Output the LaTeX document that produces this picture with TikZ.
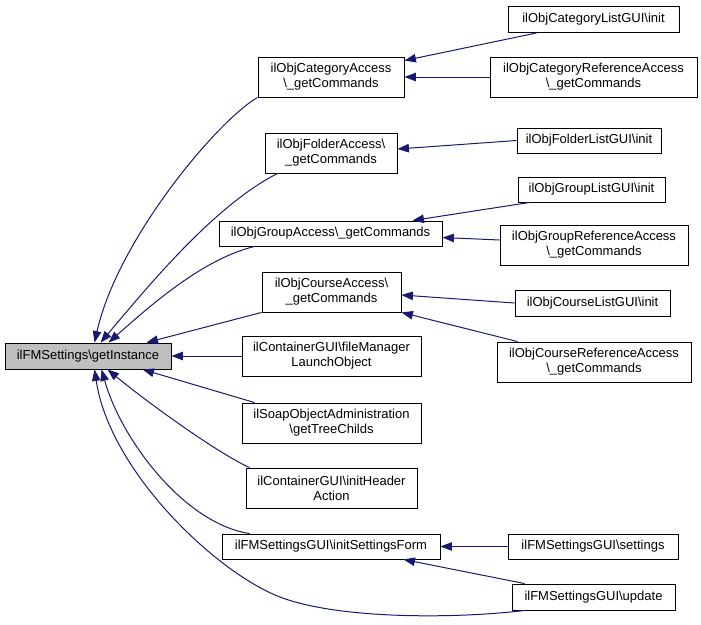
\documentclass[tikz,border=0pt]{standalone}
\usepackage{fontspec}
\setmainfont{Liberation Sans}
\usetikzlibrary{arrows.meta,calc}
\definecolor{midnight}{HTML}{191970}
\definecolor{rootgray}{HTML}{BFBFBF}
\begin{document}
\begin{tikzpicture}[x=1pt,y=-1pt,
  box/.style={draw=black, line width=0.9pt, fill=white, align=center, inner sep=0pt, font=\fontsize{13}{15}\selectfont},
  conn/.style={draw=midnight, line width=1pt, -{Triangle[length=11.5pt,width=8.5pt]}}]
\useasboundingbox (0,0) rectangle (701,624);
% nodes
\node[box, fill=rootgray, minimum width=166pt, minimum height=26pt] (root) at (88,356) {ilFMSettings\textbackslash getInstance};
\node[box, minimum width=146pt, minimum height=40pt] (catAcc) at (331,77) {ilObjCategoryAccess\\\textbackslash\_getCommands};
\node[box, minimum width=132pt, minimum height=40pt] (folderAcc) at (331,153) {ilObjFolderAccess\textbackslash\\\_getCommands};
\node[box, minimum width=223pt, minimum height=25pt] (groupAcc) at (330.5,233.5) {ilObjGroupAccess\textbackslash\_getCommands};
\node[box, minimum width=139pt, minimum height=40pt] (courseAcc) at (331.5,292) {ilObjCourseAccess\textbackslash\\\_getCommands};
\node[box, minimum width=179pt, minimum height=40pt] (fileMgr) at (331.5,356) {ilContainerGUI\textbackslash fileManager\\LaunchObject};
\node[box, minimum width=179pt, minimum height=40pt] (soap) at (331.5,423) {ilSoapObjectAdministration\\\textbackslash getTreeChilds};
\node[box, minimum width=171pt, minimum height=40pt] (initHeader) at (331.5,488) {ilContainerGUI\textbackslash initHeader\\Action};
\node[box, minimum width=218pt, minimum height=25pt] (initSF) at (331,546.5) {ilFMSettingsGUI\textbackslash initSettingsForm};
\node[box, minimum width=171pt, minimum height=26pt] (catList) at (593.5,19.5) {ilObjCategoryListGUI\textbackslash init};
\node[box, minimum width=207pt, minimum height=40pt] (catRef) at (593.5,77) {ilObjCategoryReferenceAccess\\\textbackslash\_getCommands};
\node[box, minimum width=144pt, minimum height=25pt] (folderList) at (589,140.5) {ilObjFolderListGUI\textbackslash init};
\node[box, minimum width=147pt, minimum height=25pt] (groupList) at (591.5,189.5) {ilObjGroupListGUI\textbackslash init};
\node[box, minimum width=188pt, minimum height=40pt] (groupRef) at (594,245) {ilObjGroupReferenceAccess\\\textbackslash\_getCommands};
\node[box, minimum width=155pt, minimum height=26pt] (courseList) at (592.5,303) {ilObjCourseListGUI\textbackslash init};
\node[box, minimum width=194pt, minimum height=40pt] (courseRef) at (594,362) {ilObjCourseReferenceAccess\\\textbackslash\_getCommands};
\node[box, minimum width=170pt, minimum height=25pt] (settings) at (593,546.5) {ilFMSettingsGUI\textbackslash settings};
\node[box, minimum width=163pt, minimum height=26pt] (update) at (593.5,597) {ilFMSettingsGUI\textbackslash update};
% right-hand connectors
\draw[conn] ($(catList.south west)+(29,0)$) -- ($(catAcc.north east)+(0,4)$);
\draw[conn] (catRef.west) -- (catAcc.east);
\draw[conn] (folderList.west) -- ($(folderAcc.east)+(0,-4)$);
\draw[conn] ($(groupList.south west)+(12,0)$) -- ($(groupAcc.north east)+(-30,0)$);
\draw[conn] ($(groupRef.west)+(0,-5)$) -- ($(groupAcc.east)+(0,4)$);
\draw[conn] (courseList.west) -- ($(courseAcc.east)+(0,3)$);
\draw[conn] ($(courseRef.north west)+(21,0)$) -- (courseAcc.south east);
\draw[conn] (settings.west) -- (initSF.east);
\draw[conn] ($(update.north west)+(13,0)$) -- ($(initSF.south east)+(-37,0)$);
% connectors into root
\draw[conn] (catAcc.south west) .. controls +(-40,23) and +(23,-103) .. ($(root.north west)+(90,0)$);
\draw[conn] ($(folderAcc.south west)+(13,0)$) .. controls +(-63,32) and +(49,-58) .. ($(root.north west)+(96,0)$);
\draw[conn] ($(groupAcc.south west)+(36,0)$) .. controls +(-50,12) and +(45,-40) .. ($(root.north west)+(104,0)$);
\draw[conn] (courseAcc.south west) -- ($(root.north west)+(142,0)$);
\draw[conn] (fileMgr.west) -- (root.east);
\draw[conn] ($(soap.north west)+(13,0)$) -- ($(root.south west)+(138,0)$);
\draw[conn] ($(initHeader.north west)+(4,0)$) .. controls +(-35,-16) and +(35,29) .. ($(root.south west)+(103,0)$);
\draw[conn] ($(initSF.north west)+(28,0)$) .. controls +(-65,-10) and +(20,71) .. ($(root.south west)+(97,0)$);
\draw[conn] ($(update.south west)+(13,0)$) .. controls +(-65,8) and +(60,23) .. (280,597) .. controls (215,572) and +(15,101) .. ($(root.south west)+(90,0)$);
\end{tikzpicture}
\end{document}
